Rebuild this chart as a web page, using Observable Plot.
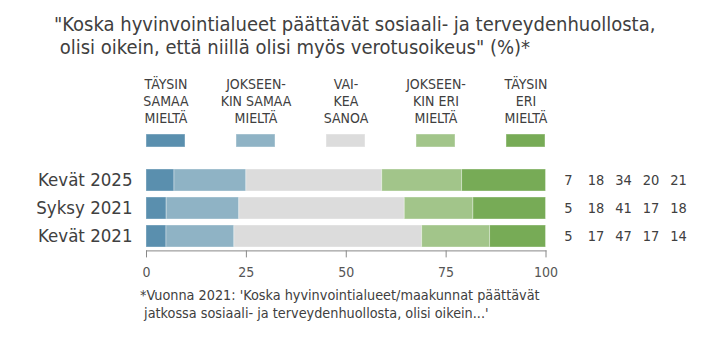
<!DOCTYPE html>
<html>
<head>
<meta charset="utf-8">
<script src="https://cdn.jsdelivr.net/npm/d3@7"></script>
<script src="https://cdn.jsdelivr.net/npm/@observablehq/plot@0.6"></script>
<style>
  html, body { margin: 0; padding: 0; background: #fff; }
  body { width: 720px; height: 337px; position: relative; overflow: hidden;
         font-family: "Liberation Sans Narrow", "DejaVu Sans Condensed", "Open Sans", sans-serif; color: #404040; }
  #title { position: absolute; left: 54px; top: 13px; font-size: 20px; line-height: 23px; white-space: pre; }
  #legend { position: absolute; left: 0; top: 70px; }
  #chart { position: absolute; left: 0; top: 150px; }
  #note { position: absolute; left: 140px; top: 286px; font-size: 14.3px; line-height: 18px; white-space: pre; }
  svg text { font-family: "Liberation Sans Narrow", "DejaVu Sans Condensed", "Open Sans", sans-serif; }
</style>
</head>
<body>
<div id="title"></div>
<div id="legend"></div>
<div id="chart"></div>
<div id="note"></div>
<script>
const titleLines = ["\"Koska hyvinvointialueet päättävät sosiaali- ja terveydenhuollosta,", " olisi oikein, että niillä olisi myös verotusoikeus\" (%)*"];
const noteLines = ["*Vuonna 2021: 'Koska hyvinvointialueet/maakunnat päättävät", " jatkossa sosiaali- ja terveydenhuollosta, olisi oikein...'"];

const periods = ["Kevät 2025", "Syksy 2021", "Kevät 2021"];
const categories = [
  "TÄYSIN\nSAMAA\nMIELTÄ",
  "JOKSEEN-\nKIN SAMAA\nMIELTÄ",
  "VAI-\nKEA\nSANOA",
  "JOKSEEN-\nKIN ERI\nMIELTÄ",
  "TÄYSIN\nERI\nMIELTÄ"
];
const colors = ["#5a8fae", "#8fb3c5", "#dcdcdc", "#a2c58a", "#77ab56"];
const kevat2025 = [7, 18, 34, 20, 21];
const syksy2021 = [5, 18, 41, 17, 18];
const kevat2021 = [5, 17, 47, 17, 14];
const xTicks = [0, 25, 50, 75, 100];

document.getElementById("title").textContent = titleLines.join("\n");
document.getElementById("note").textContent = noteLines.join("\n");

const seriesByPeriod = [kevat2025, syksy2021, kevat2021];
const data = [];
periods.forEach((p, i) => {
  categories.forEach((c, j) => data.push({period: p, cat: c, idx: j, value: seriesByPeriod[i][j]}));
});

const fontFam = "\"Liberation Sans Narrow\", \"DejaVu Sans Condensed\", \"Open Sans\", sans-serif";

// Legend
const legend = Plot.plot({
  width: 720,
  height: 80,
  marginLeft: 145.5,
  marginRight: 174,
  marginTop: 64,
  marginBottom: 3,
  style: {fontFamily: fontFam, color: "#404040", background: "transparent"},
  x: {type: "band", domain: categories, paddingInner: 0.569, paddingOuter: 0, axis: null},
  color: {domain: categories, range: colors},
  marks: [
    Plot.cell(categories, {x: d => d, fill: d => d, stroke: "#fff", strokeOpacity: 0.4}),
    Plot.text(categories, {x: d => d, text: d => d, frameAnchor: "top", lineAnchor: "middle",
      dy: -34, lineHeight: 1.2, fontSize: 14, fill: "#404040"})
  ]
});
document.getElementById("legend").appendChild(legend);

// Main chart (shares normalized to the full bar, labels show the rounded values)
const marks = [
  Plot.barX(data, Plot.stackX({x: "value", y: "period", fill: "cat", order: categories, offset: "normalize",
    stroke: "#fff", strokeOpacity: 0.35, strokeWidth: 1})),
  Plot.frame({anchor: "bottom", stroke: "#888"}),
  Plot.axisX({ticks: xTicks, tickSize: 7, tickPadding: 9, fontSize: 14, stroke: "#888", fill: "#555", label: null}),
  Plot.axisY({tickSize: 0, tickPadding: 14, fontSize: 18.5, fill: "#404040", label: null})
];
categories.forEach((c, j) => {
  marks.push(Plot.text(data.filter(d => d.idx === j), {
    y: "period", text: d => String(d.value), frameAnchor: "right",
    dx: 22.5 + 27.5 * j, textAnchor: "middle", fontSize: 14.5, fill: "#404040"
  }));
});

const chart = Plot.plot({
  width: 720,
  height: 187,
  marginLeft: 146,
  marginRight: 174.5,
  marginTop: 15.2,
  marginBottom: 86.6,
  style: {fontFamily: fontFam, color: "#404040", background: "transparent", overflow: "visible"},
  x: {percent: true, domain: [0, 100]},
  y: {domain: periods, paddingInner: 0.22, paddingOuter: 0.11},
  color: {domain: categories, range: colors},
  marks
});
document.getElementById("chart").appendChild(chart);
</script>
</body>
</html>
